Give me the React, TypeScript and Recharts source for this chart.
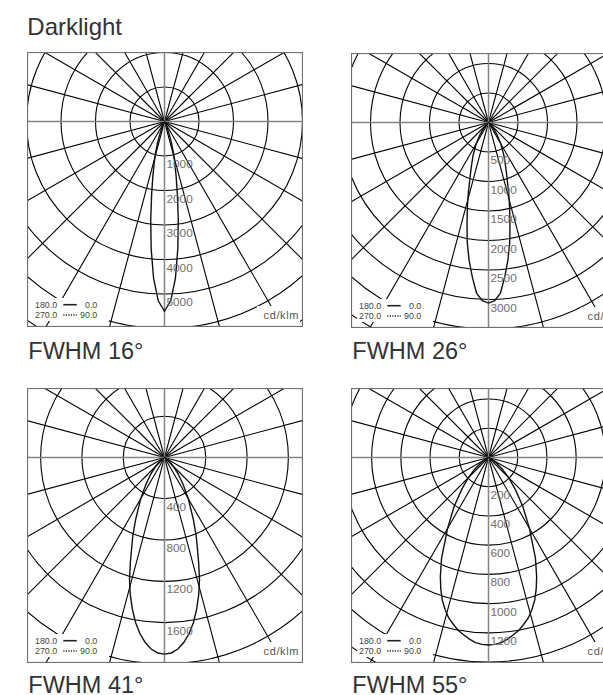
import { PolarAngleAxis, PolarGrid, PolarRadiusAxis, Radar, RadarChart } from "recharts";

// polar angles (deg from nadir) at which the intensity curves were read
const beamAngles = [0, 2, 4, 6, 8, 10, 12, 14, 16, 18, 20, 22, 25, 30, 35, 40, 45, 50, 55, 60, 70, 80, 90];

// cd/klm, C0/C180 plane (rotationally symmetric beams)
const fwhm16 = [5500, 5200, 4550, 3700, 2870, 2150, 1620, 1230, 930, 660, 420, 250, 110, 30, 0, 0, 0, 0, 0, 0, 0, 0, 0];
const fwhm26 = [3060, 3020, 2900, 2630, 2360, 2070, 1750, 1480, 1240, 1030, 880, 760, 620, 420, 250, 120, 50, 15, 0, 0, 0, 0, 0];
const fwhm41 = [1905, 1895, 1860, 1800, 1720, 1620, 1500, 1370, 1230, 1070, 930, 820, 660, 460, 310, 200, 120, 65, 30, 12, 0, 0, 0];
const fwhm55 = [1283, 1280, 1270, 1250, 1225, 1200, 1165, 1130, 1080, 1025, 955, 880, 760, 560, 410, 285, 195, 120, 65, 30, 5, 0, 0];

const labels16 = [1000, 2000, 3000, 4000, 5000];
const labels26 = [500, 1000, 1500, 2000, 2500, 3000];
const labels41 = [400, 800, 1200, 1600];
const labels55 = [200, 400, 600, 800, 1000, 1200];

const spokeAngles = [15, 30, 45, 60, 75, 105, 120, 135, 150, 165, 195, 210, 225, 240, 255, 285, 300, 315, 330, 345];
const axisAngles = [0, 90, 180, 270];

const FONT = '"Liberation Sans", Arial, Helvetica, sans-serif';
const BOX_W = 276;
const BOX_H = 275;
const CX = 137.5;
const CY = 69.5;

type Panel = {
  title: string;
  left: number;
  top: number;
  titleY: number;
  values: number[];
  labels: number[];
  max: number;
  tickCount: number;
  outerRadius: number;
};

const panels: Panel[] = [
  { title: "FWHM 16°", left: 27, top: 52, titleY: 358.5, values: fwhm16, labels: labels16, max: 8000, tickCount: 9, outerRadius: 276 },
  { title: "FWHM 26°", left: 351, top: 53, titleY: 358.5, values: fwhm26, labels: labels26, max: 4500, tickCount: 10, outerRadius: 265.5 },
  { title: "FWHM 41°", left: 27, top: 388, titleY: 693.3, values: fwhm41, labels: labels41, max: 2800, tickCount: 8, outerRadius: 289 },
  { title: "FWHM 55°", left: 351, top: 388, titleY: 693.3, values: fwhm55, labels: labels55, max: 1800, tickCount: 10, outerRadius: 263 },
];

function buildCurve(values: number[]) {
  const rows: { angle: number; cd: number }[] = [];
  for (let i = beamAngles.length - 1; i > 0; i--) rows.push({ angle: -beamAngles[i], cd: values[i] });
  for (let i = 0; i < beamAngles.length; i++) rows.push({ angle: beamAngles[i], cd: values[i] });
  return rows;
}

function Overlay() {
  const small = { fontFamily: FONT, fontSize: 8.9, fill: "#444" };
  return (
    <svg width={BOX_W} height={BOX_H} style={{ position: "absolute", left: 0, top: 0 }}>
      <rect x={6} y={246} width={76} height={23} fill="#fff" />
      <rect x={230} y={254} width={43} height={21} fill="#fff" />
      <text x={8} y={256.3} {...small}>180.0</text>
      <line x1={36.3} x2={49.7} y1={252.7} y2={252.7} stroke="#222" strokeWidth={1.6} />
      <text x={70.3} y={256.3} textAnchor="end" {...small}>0.0</text>
      <text x={8} y={266.3} {...small}>270.0</text>
      <line x1={36.3} x2={49.7} y1={263} y2={263} stroke="#222" strokeWidth={1.3} strokeDasharray="1.2 1.3" />
      <text x={70.3} y={266.3} textAnchor="end" {...small}>90.0</text>
      <text x={272} y={267.3} textAnchor="end" fontFamily={FONT} fontSize={11} letterSpacing={0.6} fill="#555">
        cd/klm
      </text>
      <rect x={0.5} y={0.5} width={BOX_W - 1} height={BOX_H - 1} fill="none" stroke="#707070" strokeWidth={1.2} />
    </svg>
  );
}

function PolarPanel({ p }: { p: Panel }) {
  const data = buildCurve(p.values);
  return (
    <div style={{ position: "absolute", left: p.left, top: p.top, width: BOX_W, height: BOX_H }}>
      <RadarChart
        width={BOX_W}
        height={BOX_H}
        data={data}
        cx={CX}
        cy={CY}
        innerRadius={0}
        outerRadius={p.outerRadius}
        startAngle={-270}
        endAngle={90}
        margin={{ top: 0, right: 0, bottom: 0, left: 0 }}
        style={{ position: "absolute", left: 0, top: 0 }}
      >
        <PolarGrid gridType="circle" polarAngles={spokeAngles} stroke="#000" strokeOpacity={1} strokeWidth={1.1} />
        <PolarGrid gridType="circle" polarAngles={axisAngles} polarRadius={[0]} stroke="#858585" strokeOpacity={1} strokeWidth={1.5} />
        <PolarAngleAxis dataKey="angle" type="number" domain={[-180, 180]} tick={false} axisLine={false} />
        <PolarRadiusAxis
          angle={-90}
          type="number"
          domain={[0, p.max]}
          tickCount={p.tickCount}
          axisLine={false}
          tick={(t: any) =>
            p.labels.includes(t.payload.value) ? (
              <text x={t.x + 2} y={t.y + 12} fontFamily={FONT} fontSize={11.8} fill="#6e6e6e">
                {t.payload.value}
              </text>
            ) : (
              <g />
            )
          }
        />
        <Radar dataKey="cd" stroke="#111" strokeWidth={1.4} fill="none" dot={false} isAnimationActive={false} />
      </RadarChart>
      <Overlay />
    </div>
  );
}

export default function App() {
  return (
    <div style={{ position: "absolute", left: 0, top: 0, width: 603, height: 695, overflow: "hidden", background: "#fff" }}>
      {panels.map((p) => (
        <PolarPanel key={p.title} p={p} />
      ))}
      <svg width={603} height={695} style={{ position: "absolute", left: 0, top: 0, pointerEvents: "none" }}>
        <text x={27.3} y={35} fontFamily={FONT} fontSize={24} fill="#333">
          Darklight
        </text>
        {panels.map((p) => (
          <text key={p.title} x={p.left + 1.3} y={p.titleY} fontFamily={FONT} fontSize={23.5} fill="#333">
            {p.title}
          </text>
        ))}
      </svg>
    </div>
  );
}
